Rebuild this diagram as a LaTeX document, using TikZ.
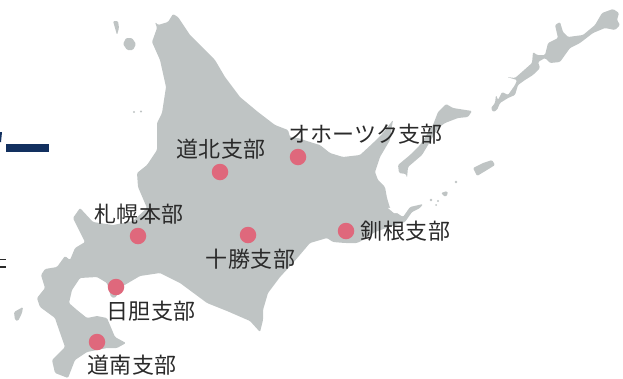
\documentclass[tikz,border=0pt]{standalone}
\usepackage{fontspec}
\setmainfont{Noto Sans CJK JP}
\definecolor{landgray}{HTML}{BFC4C4}
\definecolor{dotpink}{HTML}{DF687C}
\definecolor{barnavy}{HTML}{12305F}
\definecolor{labelink}{HTML}{2A2A2A}
\tikzset{
  land/.style={fill=landgray,draw=none,rounded corners=1.2pt},
  branchdot/.style={circle,fill=dotpink,draw=none,minimum size=16.5pt,inner sep=0pt},
  branchlabel/.style={font=\fontsize{22}{22}\selectfont\addfontfeature{LetterSpace=2},text=labelink,inner sep=0pt,anchor=center},
  kanalabel/.style={font=\fontsize{22}{22}\selectfont,text=labelink,inner sep=0pt,anchor=center},
  fragment/.style={fill=barnavy,draw=none}
}
\begin{document}
\begin{tikzpicture}[x=1pt,y=-1pt]
\useasboundingbox (0,0) rectangle (623,378);
% main island
\path[land] (155,22)--(158,25)--(168,22)--(173,14)--(178,17)--(190,35)--(205,50)--(215,60)--(225,77)--(240,97)--(258,112)--(275,125)--(288,130)--(290,137)--(298,138)--(310,142)--(320,145)--(330,153)--(343,157)--(360,155)--(373,143)--(383,133)--(393,120)--(391,132)--(390,140)--(380,157)--(375,172)--(378,180)--(385,187)--(387,198)--(390,208)--(397,213)--(403,217)--(410,207)--(423,204)--(420,208)--(412,212)--(405,222)--(392,226)--(375,232)--(363,240)--(357,243)--(345,243)--(333,242)--(327,238)--(310,243)--(293,263)--(280,277)--(268,293)--(263,310)--(263,320)--(260,332)--(250,321)--(227,311)--(207,303)--(180,283)--(160,273)--(140,276)--(123,286)--(115,298)--(111,297)--(107,283)--(97,277)--(80,278)--(72,290)--(69,303)--(77,310)--(87,318)--(97,316)--(107,318)--(115,337)--(126,343)--(117,348)--(107,348)--(87,352)--(75,360)--(68,378)--(55,373)--(52,360)--(65,347)--(58,327)--(55,318)--(40,307)--(37,298)--(45,288)--(41,275)--(45,269)--(57,267)--(65,256)--(70,260)--(75,248)--(85,242)--(73,218)--(80,208)--(93,222)--(113,225)--(133,221)--(147,208)--(138,187)--(137,173)--(147,165)--(157,150)--(157,123)--(162,113)--(166,87)--(160,60)--(152,42)--(157,28)--cycle;
% Nemuro lagoon
\path[fill=white] (388,208)--(392,207.5)--(398,213)--(394,213)--cycle;
\path[draw=white,line width=.8pt] (386,185)--(392,185)--(394,189)--(392,190);
% Rishiri, Rebun, Teuri, Okushiri
\path[land] (123,44)--(126,38)--(132,38)--(136,44)--(133,50)--(127,50)--cycle;
\path[land] (113,21)--(118,21)--(119,28)--(117,35)--(115,28)--cycle;
\path[fill=landgray] (134,112) circle (1.2) (141,111.5) circle (1.2);
\path[land] (14,312)--(23,307)--(22,313)--(18,321)--(15,320)--cycle;
% Kunashiri
\path[land] (407,178)--(406,174)--(399,173)--(398,165)--(410,155)--(420,145)--(433,125)--(438,112)--(446,104)--(453,108)--(472,111)--(468,117)--(458,118)--(445,123)--(438,128)--(428,145)--(422,155)--(408,167)--cycle;
% Etorofu
\path[land] (491,108)--(495,103)--(496,95)--(498,100)--(502,92)--(508,95)--(515,85)--(517,80)--(507,77)--(515,78)--(523,71)--(532,63)--(533,52)--(537,55)--(545,55)--(548,43)--(558,38)--(555,25)--(560,22)--(563,32)--(568,37)--(583,35)--(595,25)--(602,13)--(613,9)--(619,13)--(617,20)--(620,25)--(615,30)--(605,28)--(593,33)--(580,43)--(570,48)--(560,62)--(550,63)--(545,58)--(538,62)--(540,68)--(533,75)--(525,80)--(518,85)--(515,95)--(508,98)--(500,103)--(497,110)--(493,112)--cycle;
% Shikotan and Habomai
\path[land] (473,168)--(483,163)--(492,160)--(495,165)--(487,170)--(477,176)--cycle;
\path[land] (441,193)--(447,191)--(448,194)--(445,197)--cycle;
\path[fill=landgray] (456,182) circle (1.3) (431,200) circle (1.3) (438,201) circle (1.1) (436,205) circle (1);
% cut-off print at the left edge
\path[fragment] (6,144) rectangle (49,152);
\path[fragment] (0,132)--(2,132)--(1,142)--(0,142)--cycle;
\path[fill=labelink] (0,258.5) rectangle (6,260);
\path[fill=labelink] (0,266) rectangle (6,267.5);
% branches
\node[branchdot] (dhoku) at (220,172) {};
\node[branchdot] (ohotsk) at (298,157) {};
\node[branchdot] (sapporo) at (138,236) {};
\node[branchdot] (tokachi) at (248,235) {};
\node[branchdot] (tanbu) at (116,287) {};
\node[branchdot] (dounan) at (97,342) {};
\node[branchdot] (kushiro) at (346,231) {};
\node[branchlabel] (ldhoku) at (221,149) {道北支部};
\node[kanalabel] (lohotsk) at (365.5,134) {オホーツク支部};
\node[branchlabel] (lsapporo) at (139,214) {札幌本部};
\node[branchlabel] (ltokachi) at (250.5,259) {十勝支部};
\node[branchlabel] (ltanbu) at (151,311) {日胆支部};
\node[branchlabel] (ldounan) at (132,365.5) {道南支部};
\node[branchlabel] (lkushiro) at (405.5,231) {釧根支部};
\end{tikzpicture}
\end{document}
